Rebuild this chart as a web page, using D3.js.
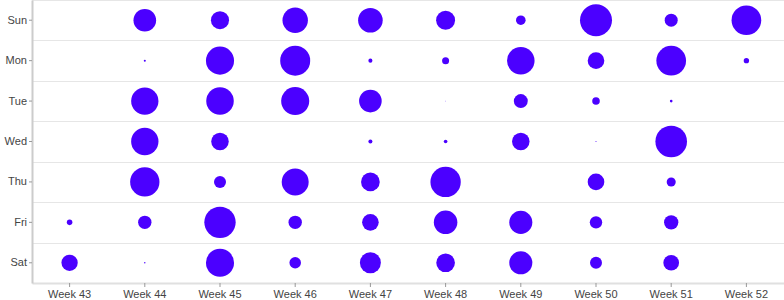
<!DOCTYPE html>
<html>
<head>
<meta charset="utf-8">
<script src="https://cdn.jsdelivr.net/npm/d3@7"></script>
<style>
  html, body { margin: 0; padding: 0; background: #fff; }
  svg { display: block; font-family: Roboto, sans-serif; }
  .grid line { stroke: #e6e6e6; }
  .axis text { fill: #444; font-size: 11px; }
  .axis line { stroke: #999; }
</style>
</head>
<body>
<div data-vis="bubbles"></div>
<script>
const weeks = ['Week 43', 'Week 44', 'Week 45', 'Week 46', 'Week 47', 'Week 48', 'Week 49', 'Week 50', 'Week 51', 'Week 52'];
const days = ['Sun', 'Mon', 'Tue', 'Wed', 'Thu', 'Fri', 'Sat'];

// one value per week (43..52), null = no bubble
const sun = [null, 50, 32, 63, 59, 35, 9, 100, 16.5, 86];
const mon = [null, 0.4, 77, 88, 1.6, 4.8, 74, 27, 86, 2.8];
const tue = [null, 73, 74, 77, 50, 0.04, 19, 5.6, 0.7, null];
const wed = [null, 73, 30, null, 1.6, 1.3, 30, 0.1, 97.5, null];
const thu = [null, 84, 14, 71, 34, 90, null, 27, 8, null];
const fri = [3, 17.5, 96, 17.5, 27, 54, 52, 15, 20, null];
const sat = [26, 0.2, 77, 13, 43, 34, 52, 14, 24, null];

const rows = [sun, mon, tue, wed, thu, fri, sat];
const cells = [];
rows.forEach((row, i) => {
  row.forEach((v, j) => {
    if (v !== null) cells.push({ day: days[i], week: weeks[j], value: v });
  });
});

const margin = { top: 0, right: 0, bottom: 17, left: 32 };
const width = 784 - margin.left - margin.right;
const height = 300 - margin.top - margin.bottom;

const xScale = d3.scaleBand().domain(weeks).range([0, width]);
const yScale = d3.scaleBand().domain(days).range([0, height]);
const rScale = d3.scaleSqrt().domain([0, d3.max(cells, (d) => d.value)]).range([0, 16]);

const svg = d3.select('[data-vis="bubbles"]')
  .append('svg')
    .attr('width', 784)
    .attr('height', 300)
  .append('g')
    .attr('transform', 'translate(' + margin.left + ',' + margin.top + ')');

// horizontal band separators
svg.append('g')
  .attr('class', 'grid')
  .selectAll('line')
  .data(days.slice(1))
  .enter().append('line')
    .attr('x1', 0)
    .attr('x2', width)
    .attr('y1', (d) => Math.round(yScale(d)) + 0.5)
    .attr('y2', (d) => Math.round(yScale(d)) + 0.5);

svg.append('line')
  .attr('x1', 0).attr('x2', width)
  .attr('y1', 0.5).attr('y2', 0.5)
  .attr('stroke', '#e6e6e6');

svg.selectAll('circle')
  .data(cells)
  .enter().append('circle')
    .attr('cx', (d) => xScale(d.week) + xScale.bandwidth() / 2)
    .attr('cy', (d) => yScale(d.day) + yScale.bandwidth() / 2)
    .attr('r', (d) => rScale(d.value))
    .attr('fill', '#4b00ff');

// x axis
const xAxis = svg.append('g')
  .attr('class', 'axis')
  .attr('transform', 'translate(0,' + height + ')')
  .call(d3.axisBottom(xScale).tickSize(4).tickSizeOuter(0).tickPadding(3));
xAxis.select('.domain').attr('stroke', '#e0e0e0').attr('stroke-width', 2);

// y axis
const yAxis = svg.append('g')
  .attr('class', 'axis')
  .call(d3.axisLeft(yScale).tickSize(3).tickSizeOuter(0).tickPadding(2));
yAxis.select('.domain').attr('stroke', '#ccc').attr('stroke-width', 2);
</script>
</body>
</html>
